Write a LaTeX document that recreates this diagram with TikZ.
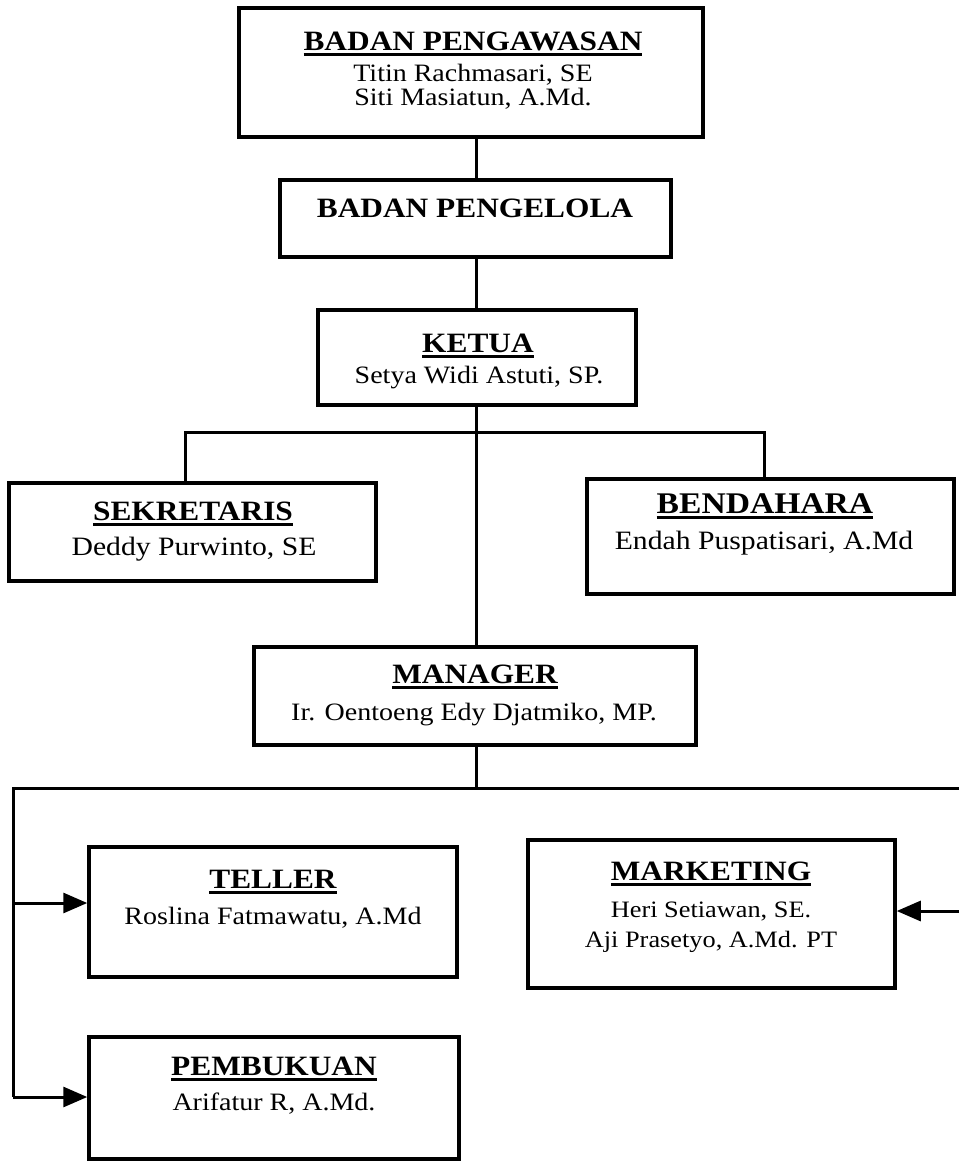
\documentclass[tikz,border=0pt]{standalone}
\usepackage{fontspec}
\setmainfont{Liberation Serif}[FakeStretch=1.12]
\usetikzlibrary{arrows.meta,fit}
\newcommand\hdu[1]{\setbox0=\hbox{#1}\rlap{\vrule width\wd0 height -2.5pt depth 5.5pt}\box0}
\begin{document}
\begin{tikzpicture}[x=1pt,y=-1pt,
  box/.style={draw,line width=3.5pt,inner sep=0pt},
  conn/.style={line width=3pt},
  arr/.style={conn,-{Triangle[length=24pt,width=20pt]}},
  hd/.style={font=\bfseries\fontsize{28}{30}\selectfont,inner sep=0pt,anchor=base},
  nm/.style={font=\fontsize{25}{27}\selectfont,inner sep=0pt,anchor=base},
  nmb/.style={nm,font=\fontsize{26.5}{28}\selectfont},
  nms/.style={nm,font=\fontsize{23.5}{25}\selectfont}]
\useasboundingbox (0,0) rectangle (959,1162);

% boxes
\node[box,fit={(239,8) (703,137)}] (peng) {};
\node[box,fit={(280,180) (671,257)}] (pengl) {};
\node[box,fit={(318,310) (636,405)}] (ketua) {};
\node[box,fit={(9,483) (376,581)}] (sek) {};
\node[box,fit={(587,479) (954,594)}] (ben) {};
\node[box,fit={(254,647) (696,745)}] (mgr) {};
\node[box,fit={(89,847) (457,977)}] (teller) {};
\node[box,fit={(528,840) (895,988)}] (mkt) {};
\node[box,fit={(89,1037) (459,1159)}] (pemb) {};

% texts
\node[hd] (peng-h) at (473,50) {\hdu{BADAN PENGAWASAN}};
\node[nm] (peng-1) at (473,81) {Titin Rachmasari, SE};
\node[nm] (peng-2) at (473,105) {Siti Masiatun, A.Md.};
\node[hd] (pengl-h) at (475,217) {BADAN PENGELOLA};
\node[hd] (ketua-h) at (478,352) {\hdu{KETUA}};
\node[nm] (ketua-1) at (479,383) {Setya Widi Astuti, SP.};
\node[hd] (sek-h) at (193,520) {\hdu{SEKRETARIS}};
\node[nmb] (sek-1) at (194,555) {Deddy Purwinto, SE};
\node[hd,font=\bfseries\fontsize{30}{32}\selectfont] (ben-h) at (765,513) {\hdu{BENDAHARA}};
\node[nmb] (ben-1) at (764,549) {Endah Puspatisari, A.Md};
\node[hd] (mgr-h) at (475,683) {\hdu{MANAGER}};
\node[nm] (mgr-1) at (474,720) {Ir. Oentoeng Edy Djatmiko, MP.};
\node[hd] (teller-h) at (273,888) {\hdu{TELLER}};
\node[nm] (teller-1) at (273,924) {Roslina Fatmawatu, A.Md};
\node[hd] (mkt-h) at (711,880) {\hdu{MARKETING}};
\node[nms] (mkt-1) at (711,917) {Heri Setiawan, SE.};
\node[nms] (mkt-2) at (711,947) {Aji Prasetyo, A.Md. PT};
\node[hd] (pemb-h) at (274,1075) {\hdu{PEMBUKUAN}};
\node[nm] (pemb-1) at (274,1110) {Arifatur R, A.Md.};

% connectors
\coordinate (ctr) at (476,0);
\coordinate (sekdrop) at (185,432);
\coordinate (bendrop) at (764,432);
\coordinate (lowL) at (13,788);
\coordinate (lowR) at (959,788);
\coordinate (ta) at (13,903);
\coordinate (pa) at (13,1097);
\coordinate (ma) at (959,911);

\draw[conn] (peng.south -| ctr) -- (pengl.north -| ctr);
\draw[conn] (pengl.south -| ctr) -- (ketua.north -| ctr);
\draw[conn] (ketua.south -| ctr) -- (mgr.north -| ctr);
\draw[conn] (sekdrop |- sek.north) -- (sekdrop) -- (bendrop) -- (bendrop |- ben.north);
\draw[conn] (mgr.south -| ctr) -- (ctr |- lowL);
\draw[conn] (lowR) -- (lowL) -- (pa);
\draw[arr] (ta) -- (ta -| teller.west);
\draw[arr] (pa) -- (pa -| pemb.west);
\draw[arr] (ma) -- (ma -| mkt.east);
\end{tikzpicture}
\end{document}
